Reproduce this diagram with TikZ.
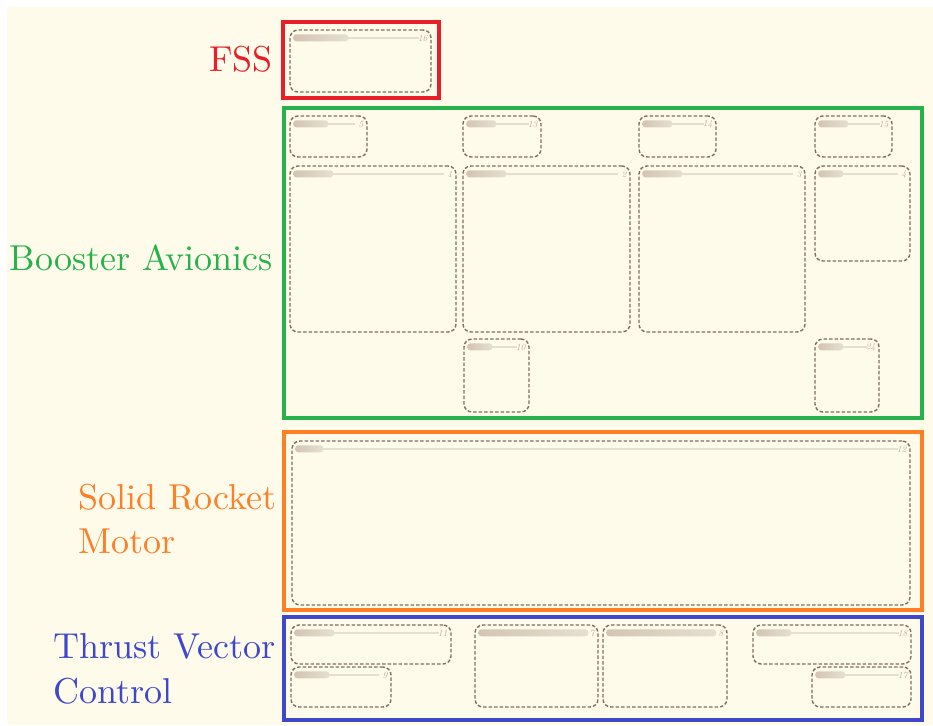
\documentclass[tikz,border=0pt]{standalone}
\usepackage{fontspec}
\newfontfamily\lmten{lmroman10-regular}[Extension=.otf]
\definecolor{cream}{RGB}{254,251,234}
\definecolor{fssred}{RGB}{232,30,40}
\definecolor{bagreen}{RGB}{40,178,76}
\definecolor{srmorange}{RGB}{255,127,39}
\definecolor{tvcblue}{RGB}{63,72,204}
\definecolor{dashc}{RGB}{125,111,100}
\definecolor{hlinec}{RGB}{228,224,208}
\definecolor{numc}{RGB}{185,175,163}
\definecolor{smearc}{RGB}{212,196,180}
\tikzset{
  group/.style={draw, line width=4pt, minimum width=0pt, minimum height=0pt, inner sep=0pt},
  ibox/.style={draw=dashc, line width=1.4pt, dash pattern=on 3.5pt off 2pt, rounded corners=8pt, inner sep=0pt},
  hdr/.style={draw=hlinec, line width=1.8pt},
  smearst/.style={left color=smearc, right color=hlinec, draw=none, rounded corners=3pt},
  numst/.style={text=numc, font=\fontsize{9.5}{9.5}\selectfont\itshape, inner sep=0pt},
  glabel/.style={font=\lmten\fontsize{36}{44.5}\selectfont, inner sep=0pt}
}
% name, x1, y1, x2, y2, number, smear width
\newcommand\ibox[7]{%
  \node[ibox, minimum width={(#4)-(#2)}, minimum height={(#5)-(#3)}] (#1) at ({((#2)+(#4))/2},{((#3)+(#5))/2}) {};
  \draw[hdr] ([xshift=4pt,yshift=-9pt]#1.north west) -- ([xshift=-13pt,yshift=-9pt]#1.north east);
  \shade[smearst] ([xshift=4pt,yshift=-5pt]#1.north west) rectangle ([xshift={4+#7},yshift=-12pt]#1.north west);
  \node[numst, anchor=east] (#1n) at ([xshift=-4pt,yshift=-9pt]#1.north east) {#6};
}
\begin{document}
\begin{tikzpicture}[x=1pt,y=-1pt]
\useasboundingbox (0,0) rectangle (933,725);
\fill[cream] (7,7) rectangle (933,725);

% group frames
\node[group, draw=fssred, minimum width=156, minimum height=76] (fss) at (361,60) {};
\node[group, draw=bagreen, minimum width=638, minimum height=310] (ba) at (603,263) {};
\node[group, draw=srmorange, minimum width=638, minimum height=178] (srm) at (603,521) {};
\node[group, draw=tvcblue, minimum width=638, minimum height=103] (tvc) at (603,668.5) {};

% labels
\node[glabel, text=fssred, anchor=east] (lfss) at (273,59) {FSS};
\node[glabel, text=bagreen, anchor=east] (lba) at (273,258) {Booster Avionics};
\node[glabel, text=srmorange, anchor=west, align=left] (lsrm) at (78,519) {Solid Rocket\\Motor};
\node[glabel, text=tvcblue, anchor=west, align=left] (ltvc) at (53,669) {Thrust Vector\\Control};

% inner boxes
\ibox{b16}{290}{30}{431}{92}{16}{55}
\ibox{b5}{290}{116}{367}{157}{5}{35}
\ibox{b13}{463}{116}{541}{157}{13}{30}
\ibox{b14}{639}{116}{716}{157}{14}{30}
\ibox{b15}{815}{116}{892}{157}{15}{30}
\ibox{b1}{290}{166}{456}{332}{1}{40}
\ibox{b2}{463}{166}{630}{332}{2}{40}
\ibox{b3}{639}{166}{805}{332}{3}{40}
\ibox{b4}{815}{166}{910}{261}{4}{25}
\ibox{b10}{464}{339}{529}{412}{10}{25}
\ibox{b24}{815}{339}{879}{412}{24}{25}
\ibox{b12}{292}{441}{910}{605}{12}{28}
\ibox{b11}{291}{625}{451}{664}{11}{40}
\ibox{b9}{291}{667}{391}{707}{9}{35}
\ibox{b7}{475}{625}{598}{707}{7}{110}
\ibox{b8}{603}{625}{727}{707}{8}{110}
\ibox{b18}{753}{625}{911}{664}{18}{35}
\ibox{b17}{812}{667}{911}{707}{17}{30}
\end{tikzpicture}
\end{document}
